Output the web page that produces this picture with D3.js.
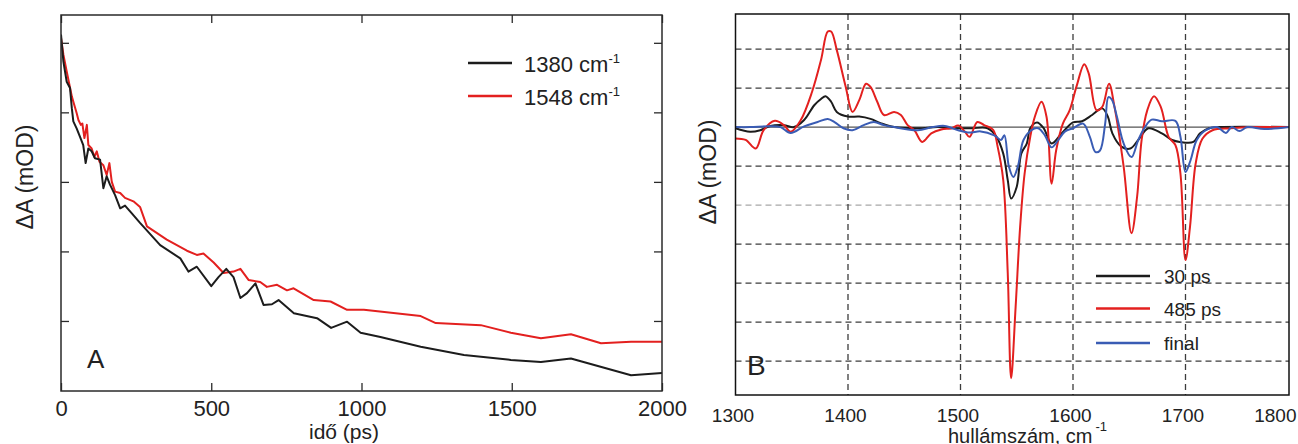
<!DOCTYPE html>
<html>
<head>
<meta charset="utf-8">
<script src="https://cdn.jsdelivr.net/npm/d3@7"></script>
<style>
  body { margin: 0; background: #fff; }
  svg { display: block; font-family: "Liberation Sans", Arial, Helvetica, sans-serif; }
</style>
</head>
<body>
<svg id="chart" width="1298" height="444"></svg>
<script>
// ---- Panel A: kinetic traces (ΔA vs. delay time) ----
const time1380 = [0, 8, 19, 30, 36, 41, 52, 63, 74, 82, 91, 102, 113, 130, 141, 152, 163, 180, 197, 213, 235, 263, 330, 397, 424, 452, 500, 524, 550, 574, 597, 619, 647, 674, 702, 724, 775, 852, 899, 952, 997, 1063, 1197, 1341, 1497, 1597, 1697, 1897, 2000];
const dA1380   = [5.12, 4.73, 4.44, 4.35, 4.06, 3.87, 3.77, 3.65, 3.53, 3.27, 3.48, 3.44, 3.34, 3.32, 2.91, 3.08, 2.96, 2.81, 2.62, 2.66, 2.55, 2.41, 2.09, 1.90, 1.71, 1.78, 1.50, 1.63, 1.75, 1.63, 1.33, 1.40, 1.54, 1.23, 1.24, 1.30, 1.11, 1.04, 0.90, 0.99, 0.83, 0.77, 0.63, 0.51, 0.44, 0.41, 0.46, 0.22, 0.25];
const time1548 = [0, 8, 19, 27, 36, 44, 52, 58, 66, 71, 78, 86, 91, 102, 111, 119, 128, 141, 152, 161, 169, 180, 197, 213, 241, 263, 286, 352, 419, 452, 474, 508, 541, 574, 597, 624, 663, 685, 719, 752, 774, 841, 897, 952, 1008, 1197, 1247, 1397, 1497, 1597, 1697, 1797, 1897, 2000];
const dA1548   = [5.07, 4.83, 4.59, 4.42, 4.23, 4.11, 3.99, 3.89, 3.82, 3.84, 3.63, 3.82, 3.53, 3.48, 3.36, 3.44, 3.29, 3.24, 3.10, 3.27, 3.00, 2.86, 2.84, 2.77, 2.72, 2.64, 2.36, 2.17, 2.01, 1.95, 1.97, 1.84, 1.69, 1.71, 1.75, 1.59, 1.56, 1.49, 1.52, 1.44, 1.47, 1.30, 1.28, 1.16, 1.16, 1.07, 0.97, 0.94, 0.83, 0.75, 0.81, 0.68, 0.70, 0.70];
const timeTicks = [0, 500, 1000, 1500, 2000];
const dATicksA = [1, 2, 3, 4, 5];
const kineticLabels = ["1380", "1548"];
const kineticColors = ["#1c1c1c", "#e3201f"];

// ---- Panel B: difference spectra ----
const wn30 = [1300, 1313, 1322, 1331, 1343, 1352, 1361, 1370, 1376, 1380, 1385, 1390, 1400, 1410, 1420, 1429, 1441, 1462, 1480, 1492, 1510, 1524, 1532, 1538, 1542, 1545, 1550, 1554, 1559, 1562, 1568, 1574, 1581, 1590, 1600, 1608, 1617, 1626, 1631, 1635, 1643, 1651, 1658, 1667, 1679, 1688, 1695, 1707, 1713, 1721, 1730, 1792];
const dA30 = [-0.03, -0.12, -0.08, 0.03, 0.05, 0, 0.18, 0.56, 0.72, 0.79, 0.65, 0.39, 0.27, 0.27, 0.21, 0.10, 0, -0.03, 0, -0.03, -0.03, -0.03, -0.25, -0.68, -1.36, -1.83, -1.53, -0.68, -0.42, -0.03, 0.12, -0.03, -0.42, -0.16, 0.12, 0.15, 0.31, 0.48, 0.27, -0.16, -0.50, -0.55, -0.33, -0.03, -0.16, -0.33, -0.38, -0.38, -0.16, -0.03, 0, 0];
const wn485 = [1300, 1309, 1318, 1325, 1335, 1343, 1349, 1358, 1368, 1376, 1382, 1385, 1390, 1398, 1404, 1410, 1416, 1420, 1426, 1432, 1441, 1447, 1453, 1459, 1466, 1474, 1483, 1492, 1498, 1504, 1508, 1515, 1521, 1529, 1533, 1538, 1542, 1545, 1549, 1553, 1557, 1562, 1566, 1572, 1576.5, 1581, 1585, 1591, 1597, 1603, 1610, 1614, 1621, 1626, 1632, 1637, 1645, 1652, 1657, 1661, 1666, 1672, 1678, 1685, 1691, 1695.5, 1700, 1704, 1709, 1715, 1724, 1740, 1760, 1792];
const dA485 = [-0.29, -0.33, -0.55, -0.08, 0.16, 0.05, -0.12, 0.18, 0.90, 1.72, 2.45, 2.45, 1.98, 1.03, 0.39, 0.69, 1.11, 1.03, 0.65, 0.31, 0.39, 0.31, 0.05, -0.08, -0.38, -0.16, -0.06, -0.03, 0.04, -0.12, -0.25, 0.13, 0.05, -0.07, -0.50, -1.36, -3.75, -6.44, -4.61, -2.56, -1.19, -0.25, 0.26, 0.65, 0.26, -1.45, -0.60, 0.09, 0.43, 1.03, 1.61, 1.37, 0.43, 0.52, 1.11, 0.50, -1.01, -2.72, -1.78, -0.33, 0.43, 0.79, 0.52, -0.25, -0.46, -1.19, -3.41, -2.56, -0.94, -0.30, -0.08, -0.03, 0, 0];
const wnFinal = [1300, 1313, 1330, 1340, 1349, 1361, 1373, 1382, 1388, 1396, 1404, 1414, 1423, 1432, 1441, 1462, 1475, 1486, 1498, 1508, 1518, 1530, 1536, 1539, 1543, 1547, 1551, 1556, 1563, 1569, 1575, 1581, 1587, 1593, 1600, 1609, 1615, 1620, 1624, 1628.6, 1631.5, 1634.6, 1639, 1645, 1652, 1658, 1664, 1670, 1679, 1691, 1695.5, 1700, 1704.5, 1710, 1718, 1728, 1736, 1741, 1748, 1755, 1770, 1792];
const dAFinal = [0, 0, 0.02, 0, -0.15, 0.02, 0.13, 0.21, 0.13, -0.03, -0.08, 0.05, 0.13, 0.05, 0, -0.08, 0, 0.03, -0.08, -0.14, -0.11, -0.21, -0.33, -0.21, -1.01, -1.28, -1.01, -0.33, -0.08, -0.03, -0.21, -0.52, -0.33, -0.11, -0.03, 0.09, -0.25, -0.64, -0.60, 0.09, 0.77, 0.70, 0.27, -0.42, -0.77, -0.33, 0, 0.19, 0.15, 0.16, -0.25, -1.15, -0.85, -0.33, -0.08, 0, -0.15, 0, -0.10, 0, -0.05, 0];
const wnTicks = [1300, 1400, 1500, 1600, 1700, 1800];
const dAGridB = [-6, -5, -4, -3, -2, -1, 1, 2];
const spectraLabels = ["30 ps", "485 ps", "final"];
const spectraColors = ["#1c1c1c", "#e3201f", "#3a5cb4"];

const svg = d3.select("#chart");
const frameColor = "#2a2a2a";

// ================= Panel A =================
const A = { l: 61, r: 662, t: 15, b: 391 };
const xA = d3.scaleLinear().domain([0, 2000]).range([A.l, A.r]);
const yA = d3.scaleLinear().domain([0, 5.4]).range([390.5, A.t]);
const gA = svg.append("g");

function styleAxis(g, color) {
  g.select(".domain").remove();
  g.selectAll(".tick line").attr("stroke", color).attr("stroke-width", 1.3);
  g.selectAll(".tick text").attr("fill", "#222");
}

// bottom axis with labels, inward ticks
gA.append("g")
  .attr("transform", `translate(0,${A.b})`)
  .call(d3.axisBottom(xA).tickValues(timeTicks).tickSize(-8).tickPadding(9).tickFormat(d3.format("d")))
  .call(g => styleAxis(g, frameColor))
  .call(g => g.selectAll(".tick text").attr("font-size", 22).attr("font-family", "Liberation Sans, Arial, sans-serif"));
// top axis, ticks only
gA.append("g")
  .attr("transform", `translate(0,${A.t})`)
  .call(d3.axisTop(xA).tickValues(timeTicks).tickSize(-8).tickFormat(""))
  .call(g => styleAxis(g, frameColor));
// left / right axes, ticks only
gA.append("g")
  .attr("transform", `translate(${A.l},0)`)
  .call(d3.axisLeft(yA).tickValues(dATicksA).tickSize(-8).tickFormat(""))
  .call(g => styleAxis(g, frameColor));
gA.append("g")
  .attr("transform", `translate(${A.r},0)`)
  .call(d3.axisRight(yA).tickValues(dATicksA).tickSize(-8).tickFormat(""))
  .call(g => styleAxis(g, frameColor));

svg.append("defs").append("clipPath").attr("id", "clipA")
  .append("rect").attr("x", A.l).attr("y", A.t).attr("width", A.r - A.l).attr("height", A.b - A.t);

const lineA = (xs) => d3.line().x((d, i) => xA(xs[i])).y(d => yA(d));
gA.append("path").datum(dA1548)
  .attr("clip-path", "url(#clipA)")
  .attr("d", lineA(time1548)).attr("fill", "none")
  .attr("stroke", kineticColors[1]).attr("stroke-width", 2).attr("stroke-linejoin", "round");
gA.append("path").datum(dA1380)
  .attr("clip-path", "url(#clipA)")
  .attr("d", lineA(time1380)).attr("fill", "none")
  .attr("stroke", kineticColors[0]).attr("stroke-width", 2).attr("stroke-linejoin", "round");

gA.append("rect")
  .attr("x", A.l).attr("y", A.t).attr("width", A.r - A.l).attr("height", A.b - A.t)
  .attr("fill", "none").attr("stroke", frameColor).attr("stroke-width", 1.5);

// legend A
const legA = gA.append("g");
kineticLabels.forEach((lab, i) => {
  const ly = 63 + i * 33;
  legA.append("line").attr("x1", 468).attr("x2", 512).attr("y1", ly).attr("y2", ly)
    .attr("stroke", kineticColors[i]).attr("stroke-width", 2.5);
  const t = legA.append("text").attr("x", 524).attr("y", ly + 8.5)
    .attr("font-size", 22).attr("fill", "#222");
  t.append("tspan").text(lab + " cm");
  t.append("tspan").attr("font-size", 13).attr("dy", -9).text("-1");
});

// axis titles A
gA.append("text")
  .attr("transform", "translate(25,177) rotate(-90)")
  .attr("text-anchor", "middle").attr("dominant-baseline", "central")
  .attr("font-size", 23).attr("fill", "#222").text("ΔA (mOD)");
gA.append("text").attr("x", 344).attr("y", 439)
  .attr("text-anchor", "middle").attr("font-size", 21).attr("fill", "#222").text("idő (ps)");
gA.append("text").attr("x", 87).attr("y", 368)
  .attr("font-size", 26).attr("fill", "#222").text("A");

// ================= Panel B =================
const B = { l: 735.5, r: 1289, t: 14, b: 395 };
const xB = d3.scaleLinear().domain([1300, 1792]).range([B.l, B.r]);
const yB = d3.scaleLinear().domain([-6.87, 2.9]).range([B.b, B.t]);
const gB = svg.append("g");

// grid lines
gB.append("g").selectAll("line").data(dAGridB).join("line")
  .attr("x1", B.l).attr("x2", B.r)
  .attr("y1", d => yB(d)).attr("y2", d => yB(d))
  .attr("stroke", d => d === -2 ? "#a8a8a8" : "#3c3c3c")
  .attr("stroke-width", 1.3).attr("stroke-dasharray", "6,4");
gB.append("g").selectAll("line").data(wnTicks.filter(d => d > 1300 && d < 1790)).join("line")
  .attr("x1", d => xB(d)).attr("x2", d => xB(d))
  .attr("y1", B.t).attr("y2", B.b)
  .attr("stroke", "#3c3c3c").attr("stroke-width", 1.3).attr("stroke-dasharray", "6,4");
// zero line
gB.append("line")
  .attr("x1", B.l).attr("x2", B.r).attr("y1", yB(0)).attr("y2", yB(0))
  .attr("stroke", "#555").attr("stroke-width", 1.2);

// bottom axis labels
gB.append("g")
  .attr("transform", `translate(0,${B.b})`)
  .call(d3.axisBottom(xB).tickValues(wnTicks).tickSize(0).tickPadding(14).tickFormat(d3.format("d")))
  .call(g => g.select(".domain").remove())
  .call(g => g.selectAll(".tick text").attr("font-size", 19).attr("fill", "#222")
    .attr("font-family", "Liberation Sans, Arial, sans-serif").attr("dx", -3))
  .call(g => g.selectAll(".tick").filter(d => d === 1800).select("text")
    .attr("text-anchor", "end").attr("x", -2).attr("dx", 0));

svg.select("defs").append("clipPath").attr("id", "clipB")
  .append("rect").attr("x", B.l).attr("y", B.t).attr("width", B.r - B.l).attr("height", B.b - B.t);

const lineB = (xs) => d3.line().curve(d3.curveCatmullRom.alpha(0.5))
  .x((d, i) => xB(xs[i])).y(d => yB(d));
[[wn30, dA30], [wn485, dA485], [wnFinal, dAFinal]].forEach(([xs, ys], i) => {
  gB.append("path").datum(ys)
    .attr("clip-path", "url(#clipB)")
    .attr("d", lineB(xs)).attr("fill", "none")
    .attr("stroke", spectraColors[i]).attr("stroke-width", 2).attr("stroke-linejoin", "round");
});

gB.append("rect")
  .attr("x", B.l).attr("y", B.t).attr("width", B.r - B.l).attr("height", B.b - B.t)
  .attr("fill", "none").attr("stroke", "#111").attr("stroke-width", 1.5);

// legend B
const legB = gB.append("g");
spectraLabels.forEach((lab, i) => {
  const ly = [276, 308.5, 343][i];
  legB.append("line").attr("x1", 1096).attr("x2", 1150).attr("y1", ly).attr("y2", ly)
    .attr("stroke", spectraColors[i]).attr("stroke-width", 2.5);
  legB.append("text").attr("x", 1164).attr("y", ly + 7)
    .attr("font-size", 19).attr("fill", "#222").text(lab);
});

// axis titles B
gB.append("text")
  .attr("transform", "translate(708,172) rotate(-90)")
  .attr("text-anchor", "middle").attr("dominant-baseline", "central")
  .attr("font-size", 23).attr("fill", "#222").text("ΔA (mOD)");
const xt = gB.append("text").attr("x", 948).attr("y", 443)
  .attr("font-size", 20).attr("fill", "#222");
xt.append("tspan").text("hullámszám, cm");
xt.append("tspan").attr("font-size", 13).attr("dy", -12).attr("dx", 3).text("-1");
gB.append("text").attr("x", 747).attr("y", 375)
  .attr("font-size", 28).attr("fill", "#222").text("B");
</script>
</body>
</html>
